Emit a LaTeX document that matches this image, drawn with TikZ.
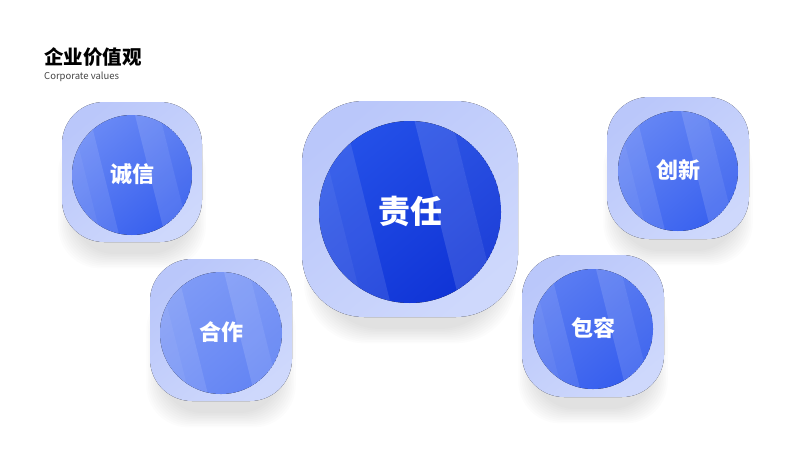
\documentclass[tikz,border=0pt]{standalone}
\usepackage{fontspec}
\newfontfamily\cjk{Noto Sans CJK SC}

\definecolor{boxtop}{RGB}{186,199,250}
\definecolor{boxbot}{RGB}{206,216,252}
\definecolor{subgray}{RGB}{70,70,70}
\definecolor{chengxintop}{RGB}{104,136,245}
\definecolor{chengxinbot}{RGB}{56,96,238}
\definecolor{hezuotop}{RGB}{126,154,246}
\definecolor{hezuobot}{RGB}{100,133,244}
\definecolor{zerentop}{RGB}{36,80,232}
\definecolor{zerenbot}{RGB}{16,52,214}
\definecolor{chuangxintop}{RGB}{100,133,244}
\definecolor{chuangxinbot}{RGB}{58,98,239}
\definecolor{baorongtop}{RGB}{90,124,242}
\definecolor{baorongbot}{RGB}{54,94,238}

% name, x, y, half size, corner, radius, label
\newcommand{\valuebadge}[7]{%
\foreach \k in {0,...,9}
  \fill [black, opacity=0.010, rounded corners=#5]
    ({#2-0.85*#4-1.6*\k},{#3-0.6*#4+15-1.6*\k}) rectangle ({#2+0.85*#4+1.6*\k},{#3+#4+12+1.6*\k}) ;
\fill [top color=boxtop, bottom color=boxbot, shading angle=40, rounded corners=#5]
  ({#2-#4},{#3-#4}) rectangle ({#2+#4},{#3+#4}) ;
\begin{scope}
\clip (#2,{#3+3}) circle (#6) ;
\fill [top color=#1top, bottom color=#1bot, shading angle=40] (#2,{#3+3}) circle (#6) ;
\begin{scope}[shift={(#2,{#3+3})}, rotate=-14]
\fill [white, opacity=0.10] ({-1.3*#6},{-1.5*#6}) rectangle ({-0.45*#6},{1.5*#6}) ;
\fill [white, opacity=0.05] ({-1.3*#6},{-1.5*#6}) rectangle ({-0.75*#6},{1.5*#6}) ;
\fill [white, opacity=0.13] ({0.29*#6},{-1.5*#6}) rectangle ({0.69*#6},{1.5*#6}) ;
\fill [white, opacity=0.06] ({0.69*#6},{-1.5*#6}) rectangle ({1.3*#6},{1.5*#6}) ;
\end{scope}
\end{scope}
\draw (#2,{#3+2}) node [inner sep=0pt, text=white] (#1) {#7} ;
}

\begin{document}
\begin{tikzpicture}[x=1pt,y=1pt,yscale=-1,xscale=1]

\useasboundingbox (0,0) rectangle (800,450) ;
\fill [white] (0,0) rectangle (800,450) ;

\valuebadge{chengxin}{132}{172}{70}{42pt}{60}{\cjk\bfseries\fontsize{22}{22}\selectfont 诚信}
\valuebadge{hezuo}{221}{330}{71}{42pt}{61}{\cjk\bfseries\fontsize{22}{22}\selectfont 合作}
\valuebadge{zeren}{410}{209}{108}{62pt}{91}{\cjk\bfseries\fontsize{32}{32}\selectfont 责任}
\valuebadge{chuangxin}{678}{168}{71}{42pt}{60}{\cjk\bfseries\fontsize{22}{22}\selectfont 创新}
\valuebadge{baorong}{593}{326}{71}{42pt}{60}{\cjk\bfseries\fontsize{22}{22}\selectfont 包容}

\draw (44,64) node [anchor=base west][inner sep=0pt] (title) {\cjk\bfseries\fontsize{19.5}{20}\selectfont 企业价值观};
\draw (44,79) node [anchor=base west][inner sep=0pt, text=subgray] (subtitle) {\cjk\fontsize{9.5}{10}\selectfont Corporate values};

\end{tikzpicture}
\end{document}
